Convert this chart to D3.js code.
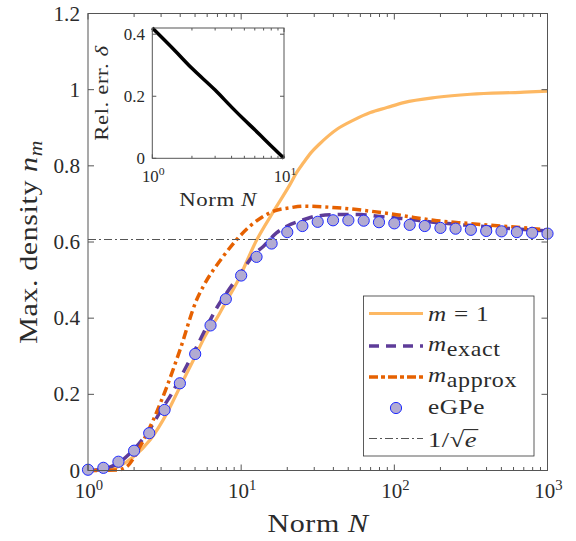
<!DOCTYPE html>
<html>
<head>
<meta charset="UTF-8">
<script src="https://d3js.org/d3.v7.min.js"></script>
<style>
  body { margin: 0; background: #fff; }
  svg text { font-family: "Liberation Serif", serif; fill: #2b2b2b; }
</style>
</head>
<body>
<div id="chart"></div>
<script>
// --- data ---
var egpeN = [1, 1.26, 1.58, 2, 2.51, 3.16, 3.98, 5.01, 6.31, 7.94, 10, 12.6, 15.8, 20, 25.1, 31.6, 39.8, 50.1, 63.1, 79.4,
             100, 126, 158, 200, 251, 316, 398, 501, 631, 794, 1000];
var egpeVal = [0.002, 0.007, 0.023, 0.052, 0.098, 0.159, 0.229, 0.306, 0.381, 0.450, 0.512, 0.561, 0.596, 0.626, 0.642,
               0.653, 0.657, 0.657, 0.656, 0.652, 0.649, 0.645, 0.642, 0.637, 0.635, 0.632, 0.629, 0.628, 0.626, 0.624, 0.622];

var oneN = [1, 1.39, 1.98, 2.54, 3.27, 3.99, 4.88, 5.97, 6.94, 7.66, 9.37, 12.7, 16.3, 20.9, 23, 25.5, 28.5, 32.6, 42.2, 54.1,
            69.7, 89.5, 115, 190, 314, 666, 1000];
var oneVal = [0, 0.003, 0.036, 0.08, 0.15, 0.22, 0.29, 0.361, 0.40, 0.431, 0.493, 0.607, 0.681, 0.752, 0.782, 0.808, 0.834,
              0.858, 0.896, 0.92, 0.94, 0.953, 0.966, 0.98, 0.988, 0.993, 0.996];

var exactN = [1, 1.26, 1.58, 2, 2.5, 3, 3.5, 4, 5, 6, 7, 8, 10, 12, 14, 17, 20, 25, 31, 44, 60, 81, 110, 180, 300, 500, 1000];
var exactVal = [0, 0.004, 0.02, 0.056, 0.105, 0.158, 0.2, 0.243, 0.317, 0.38, 0.43, 0.465, 0.52, 0.565, 0.589, 0.624, 0.642,
                0.657, 0.668, 0.672, 0.672, 0.667, 0.662, 0.652, 0.644, 0.637, 0.629];

var apprN = [1, 1.54, 1.79, 2.19, 2.67, 3.27, 3.99, 5.13, 5.67, 7.66, 11.45, 16.3, 20.9, 25.5, 42.2, 69.7, 110, 180, 299, 493, 811, 1000];
var apprVal = [0, 0.001, 0.01, 0.063, 0.133, 0.22, 0.317, 0.449, 0.484, 0.563, 0.642, 0.681, 0.69, 0.694, 0.69, 0.681, 0.67,
               0.657, 0.649, 0.642, 0.635, 0.631];

var invSqrtE = 0.6065;

// inset: relative error
var deltaN = [1, 1.5, 2, 3, 4, 5, 6, 7, 8, 9, 10];
var deltaVal = [0.42, 0.345, 0.29, 0.22, 0.165, 0.124, 0.092, 0.064, 0.04, 0.019, 0];

var yTicks = [0, 0.2, 0.4, 0.6, 0.8, 1, 1.2];
var xTicks = [1, 10, 100, 1000];
var insetYTicks = [0, 0.2, 0.4];

var width = 576, height = 541;
var axisColor = "#555";
var wide = 1.2; // computer-modern letters are wider than Times

var svg = d3.select("#chart").append("svg")
    .attr("width", width)
    .attr("height", height);

// main axes
var x = d3.scaleLog().domain([1, 1000]).range([88, 547.5]);
var y = d3.scaleLinear().domain([0, 1.2]).range([470.5, 13.5]);

function minorTicks(lo, hi) {
    var out = [];
    for (var d = lo; d < hi; d *= 10)
        for (var k = 2; k <= 9; k++) out.push(d * k);
    return out;
}

function drawFrame(g, xs, ys, xt, yt, major, minor) {
    var x0 = xs.range()[0], x1 = xs.range()[1], y0 = ys.range()[0], y1 = ys.range()[1];
    var xd = xs.domain();
    minorTicks(xd[0], xd[1]).forEach(function(v) {
        g.append("line").attr("x1", xs(v)).attr("x2", xs(v)).attr("y1", y0).attr("y2", y0 - minor);
        g.append("line").attr("x1", xs(v)).attr("x2", xs(v)).attr("y1", y1).attr("y2", y1 + minor);
    });
    xt.forEach(function(v) {
        g.append("line").attr("x1", xs(v)).attr("x2", xs(v)).attr("y1", y0).attr("y2", y0 - major);
        g.append("line").attr("x1", xs(v)).attr("x2", xs(v)).attr("y1", y1).attr("y2", y1 + major);
    });
    yt.forEach(function(v) {
        g.append("line").attr("x1", x0).attr("x2", x0 + major).attr("y1", ys(v)).attr("y2", ys(v));
        g.append("line").attr("x1", x1).attr("x2", x1 - major).attr("y1", ys(v)).attr("y2", ys(v));
    });
    g.append("rect").attr("x", x0).attr("y", y1).attr("width", x1 - x0).attr("height", y0 - y1)
        .attr("fill", "none");
    g.attr("stroke", axisColor).attr("stroke-width", 1);
}

// text placed at (px,py), optionally rotated and stretched along its run
function addText(g, px, py, size, anchor, rot, sx) {
    var h = g.append("g")
        .attr("transform", "translate(" + px + "," + py + ") rotate(" + (rot || 0) + ") scale(" + (sx || 1) + ",1)");
    var t = h.append("text").attr("text-anchor", anchor || "start").style("font-size", size + "px");
    if (sx && sx > 1.1) t.style("letter-spacing", "0.5px");
    return t;
}

function powLabel(g, px, py, base, size) {
    var t = addText(g, px, py, size, "middle", 0, 1.05);
    t.append("tspan").text("10");
    t.append("tspan").attr("dy", -size * 0.42).style("font-size", (size * 0.7) + "px").text(base);
    return t;
}

function fmt(v) { return v === 0 ? "0" : (v === 1 ? "1" : String(+v.toFixed(1))); }

var lineGen = function(xs, ys) {
    return d3.line()
        .x(function(d) { return xs(d[0]); })
        .y(function(d) { return ys(d[1]); })
        .curve(d3.curveMonotoneX);
};

var plot = svg.append("g");
var mainLine = lineGen(x, y);

plot.append("path").datum(d3.zip(oneN, oneVal))
    .attr("d", mainLine).attr("fill", "none")
    .attr("stroke", "#fdb863").attr("stroke-width", 3.2);

plot.append("path").datum(d3.zip(exactN, exactVal))
    .attr("d", mainLine).attr("fill", "none")
    .attr("stroke", "#5e3c99").attr("stroke-width", 3.5)
    .attr("stroke-dasharray", "11,7");

plot.append("path").datum(d3.zip(apprN, apprVal))
    .attr("d", mainLine).attr("fill", "none")
    .attr("stroke", "#e66101").attr("stroke-width", 3.5)
    .attr("stroke-dasharray", "9,4,3,4");

plot.selectAll("circle.egpe").data(d3.zip(egpeN, egpeVal))
    .enter().append("circle").attr("class", "egpe")
    .attr("cx", function(d) { return x(d[0]); })
    .attr("cy", function(d) { return y(d[1]); })
    .attr("r", 5.6)
    .attr("fill", "#b2abd2").attr("stroke", "#1f2bff").attr("stroke-width", 1);

plot.append("line")
    .attr("x1", x(1)).attr("x2", x(1000))
    .attr("y1", y(invSqrtE)).attr("y2", y(invSqrtE))
    .attr("stroke", "#555").attr("stroke-width", 1.1)
    .attr("stroke-dasharray", "8,3,2,3");

drawFrame(svg.append("g"), x, y, xTicks, yTicks, 6, 3.5);

// main tick labels
var labels = svg.append("g");
yTicks.forEach(function(v) {
    addText(labels, 80, y(v) + 7, 20, "end", 0, 1.06).text(fmt(v));
});
xTicks.forEach(function(v, i) {
    powLabel(labels, x(v) + 1, 498, String(i), 20);
});

// axis titles
var xt = addText(labels, 318, 532, 25, "middle", 0, wide);
xt.append("tspan").text("Norm ");
xt.append("tspan").style("font-style", "italic").text("N");

var yt = addText(labels, 37, 242, 25, "middle", -90, wide);
yt.append("tspan").text("Max. density ");
yt.append("tspan").style("font-style", "italic").text("n");
yt.append("tspan").attr("dy", 5).style("font-style", "italic").style("font-size", "18px").text("m");

// legend
var leg = svg.append("g");
leg.append("rect").attr("x", 363.5).attr("y", 296).attr("width", 170.5).attr("height", 160)
    .attr("fill", "#fff").attr("stroke", "#333").attr("stroke-width", 0.8);
var rows = [313.5, 346, 377, 408, 438.5];
var lx0 = 369, lx1 = 423, tx = 428;

leg.append("line").attr("x1", lx0).attr("x2", lx1).attr("y1", rows[0]).attr("y2", rows[0])
    .attr("stroke", "#fdb863").attr("stroke-width", 3.2);
leg.append("line").attr("x1", lx0).attr("x2", lx1).attr("y1", rows[1]).attr("y2", rows[1])
    .attr("stroke", "#5e3c99").attr("stroke-width", 3.5).attr("stroke-dasharray", "10,7");
leg.append("line").attr("x1", lx0).attr("x2", lx1).attr("y1", rows[2]).attr("y2", rows[2])
    .attr("stroke", "#e66101").attr("stroke-width", 3.5).attr("stroke-dasharray", "9,3,4,3");
leg.append("circle").attr("cx", (lx0 + lx1) / 2).attr("cy", rows[3]).attr("r", 5.6)
    .attr("fill", "#b2abd2").attr("stroke", "#1f2bff").attr("stroke-width", 1);
leg.append("line").attr("x1", lx0).attr("x2", lx1).attr("y1", rows[4]).attr("y2", rows[4])
    .attr("stroke", "#555").attr("stroke-width", 1.1).attr("stroke-dasharray", "8,3,2,3");

var t0 = addText(leg, tx, rows[0] + 7, 21, "start", 0, wide);
t0.append("tspan").style("font-style", "italic").text("m");
t0.append("tspan").attr("dx", 6).text("=");
t0.append("tspan").attr("dx", 6).text("1");

var t1 = addText(leg, tx, rows[1] + 5, 21, "start", 0, wide);
t1.append("tspan").style("font-style", "italic").text("m");
t1.append("tspan").attr("dy", 5).style("font-size", "20px").text("exact");

var t2 = addText(leg, tx, rows[2] + 5, 21, "start", 0, wide);
t2.append("tspan").style("font-style", "italic").text("m");
t2.append("tspan").attr("dy", 5).style("font-size", "20px").text("approx");

addText(leg, tx, rows[3] + 6, 21, "start", 0, wide).text("eGPe");

var t4 = addText(leg, tx, rows[4] + 8, 22, "start", 0, wide);
t4.append("tspan").text("1/√");
t4.append("tspan").style("font-style", "italic").text("e");
var ext = t4.node().getExtentOfChar(3);
d3.select(t4.node().parentNode).append("line")
    .attr("x1", ext.x - 1).attr("x2", ext.x + ext.width + 1)
    .attr("y1", ext.y + 3).attr("y2", ext.y + 3)
    .attr("stroke", "#2b2b2b").attr("stroke-width", 1.1);

// inset
var xi = d3.scaleLog().domain([1, 10]).range([152.3, 284]);
var yi = d3.scaleLinear().domain([0, 0.42]).range([158.3, 28]);
var inset = svg.append("g");
inset.append("rect").attr("x", 152.3).attr("y", 28).attr("width", 131.7).attr("height", 130.3)
    .attr("fill", "#fff");
inset.append("path").datum(d3.zip(deltaN, deltaVal))
    .attr("d", lineGen(xi, yi)).attr("fill", "none")
    .attr("stroke", "#000").attr("stroke-width", 3.5);
drawFrame(inset.append("g"), xi, yi, [1, 10], insetYTicks, 4, 2.5);

insetYTicks.forEach(function(v) {
    addText(inset, 145, yi(v) + 5.5, 16, "end", 0, 1.06).text(fmt(v));
});
powLabel(inset, xi(1) + 1, 182, "0", 16);
powLabel(inset, xi(10) + 1, 182, "1", 16);

var ixt = addText(inset, 218, 206, 19, "middle", 0, wide);
ixt.append("tspan").text("Norm ");
ixt.append("tspan").style("font-style", "italic").text("N");

var iyt = addText(inset, 108, 93, 19, "middle", -90, wide);
iyt.append("tspan").text("Rel. err. ");
iyt.append("tspan").style("font-style", "italic").text("δ");
</script>
</body>
</html>
